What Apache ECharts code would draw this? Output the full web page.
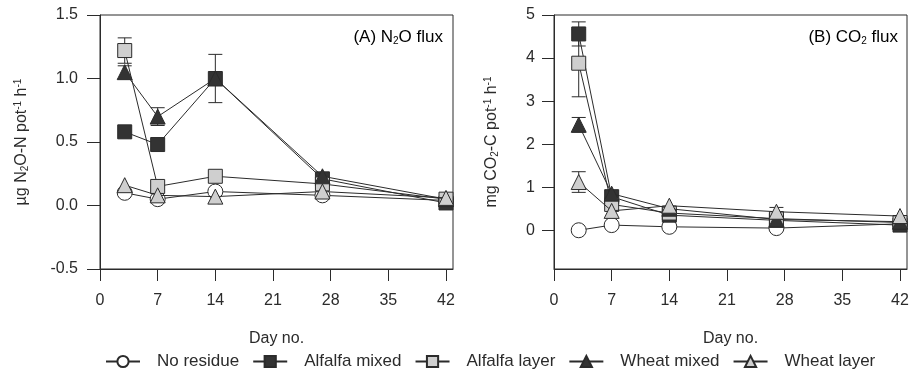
<!DOCTYPE html>
<html><head><meta charset="utf-8">
<script src="https://cdn.jsdelivr.net/npm/echarts@6/dist/echarts.min.js"></script>
<style>html,body{margin:0;padding:0;background:#fff}#c{width:917px;height:379px}</style>
</head><body><div id="c"></div>
<script>
const days = [3, 7, 14, 27, 42];
const seriesNames = ['No residue', 'Alfalfa mixed', 'Alfalfa layer', 'Wheat mixed', 'Wheat layer'];
const xTicks = [0, 7, 14, 21, 28, 35, 42];
const yTicksA = [-0.5, 0, 0.5, 1.0, 1.5];
const yTicksB = [0, 1, 2, 3, 4, 5];

// Panel A: N2O flux
const noResA  = [0.10, 0.05, 0.11, 0.08, 0.04];
const alfMixA = [0.58, 0.48, 1.00, 0.21, 0.02];
const alfLayA = [1.22, 0.15, 0.23, 0.17, 0.05];
const wheMixA = [1.05, 0.70, 1.00, 0.23, 0.05];
const wheLayA = [0.16, 0.08, 0.07, 0.11, 0.06];
const errAlfMixA = [0, 0, 0.19, 0, 0];
const errAlfLayA = [0.10, 0, 0, 0, 0];
const errWheMixA = [0.05, 0.07, 0, 0, 0];

// Panel B: CO2 flux
const noResB  = [0.00, 0.12, 0.08, 0.05, 0.15];
const alfMixB = [4.56, 0.78, 0.35, 0.23, 0.12];
const alfLayB = [3.88, 0.60, 0.40, 0.27, 0.18];
const wheMixB = [2.45, 0.85, 0.50, 0.25, 0.20];
const wheLayB = [1.12, 0.45, 0.57, 0.43, 0.33];
const errAlfMixB = [0.28, 0, 0, 0, 0];
const errAlfLayB = [0.78, 0, 0, 0, 0];
const errWheMixB = [0.17, 0, 0, 0, 0];
const errWheLayB = [0.24, 0, 0, 0.10, 0];

const FONT = 'Liberation Sans';
const FS = 16;
const INK = '#2b2b2b';
const styles = [
  {symbol: 'circle', color: '#ffffff', size: 15},
  {symbol: 'rect', color: '#333333', size: 14},
  {symbol: 'rect', color: '#cfcfcf', size: 14},
  {symbol: 'triangle', color: '#333333', size: 15},
  {symbol: 'triangle', color: '#cfcfcf', size: 15}
];

function lineSeries(i, vals, gi) {
  const s = styles[i];
  return {
    type: 'line', name: seriesNames[i], xAxisIndex: gi, yAxisIndex: gi,
    data: days.map((d, k) => [d, vals[k]]),
    symbol: s.symbol, symbolSize: s.size,
    lineStyle: {color: INK, width: 1},
    itemStyle: {color: s.color, borderColor: INK, borderWidth: 1},
    z: 3 + i, animation: false
  };
}
function errSeries(vals, errs, gi) {
  const data = [];
  days.forEach((d, k) => { if (errs[k] > 0) data.push([d, vals[k] - errs[k], vals[k] + errs[k]]); });
  return {
    type: 'custom', xAxisIndex: gi, yAxisIndex: gi, z: 2, silent: true, animation: false,
    data: data,
    renderItem: function (params, api) {
      const lo = api.coord([api.value(0), api.value(1)]);
      const hi = api.coord([api.value(0), api.value(2)]);
      const w = 7;
      const st = {stroke: INK, lineWidth: 1};
      return {type: 'group', children: [
        {type: 'line', shape: {x1: lo[0], y1: lo[1], x2: hi[0], y2: hi[1]}, style: st},
        {type: 'line', shape: {x1: lo[0] - w, y1: lo[1], x2: lo[0] + w, y2: lo[1]}, style: st},
        {type: 'line', shape: {x1: hi[0] - w, y1: hi[1], x2: hi[0] + w, y2: hi[1]}, style: st}
      ]};
    }
  };
}

function richFor(fs) {
  return {
    t: {fontFamily: FONT, fontSize: fs, color: INK},
    sub: {fontFamily: FONT, fontSize: 10, color: INK, verticalAlign: 'bottom', padding: [7, 0, 0, 0]},
    sup: {fontFamily: FONT, fontSize: 10, color: INK, verticalAlign: 'top', padding: [0, 0, 7, 0]}
  };
}

function xAxis(gi) {
  return {
    type: 'value', gridIndex: gi, min: 0, max: 42.85,
    name: 'Day no.', nameLocation: 'middle', nameGap: 62,
    nameTextStyle: {fontFamily: FONT, fontSize: FS, color: INK},
    axisLine: {show: true, onZero: false, lineStyle: {color: INK, width: 1}},
    axisTick: {show: true, length: 12, lineStyle: {color: INK}, customValues: xTicks},
    axisLabel: {fontFamily: FONT, fontSize: FS, color: INK, margin: 24, customValues: xTicks},
    splitLine: {show: false}
  };
}

const option = {
  backgroundColor: '#ffffff',
  animation: false,
  grid: [
    {left: 100, right: 464, top: 15, bottom: 110, show: true, borderColor: INK, borderWidth: 1, containLabel: false},
    {left: 554, right: 10, top: 15, bottom: 110, show: true, borderColor: INK, borderWidth: 1, containLabel: false}
  ],
  xAxis: [xAxis(0), xAxis(1)],
  yAxis: [
    {type: 'value', gridIndex: 0, min: -0.5, max: 1.5,
     name: '{t|µg N}{sub|2}{t|O-N pot}{sup|-1}{t| h}{sup|-1}', nameLocation: 'middle', nameGap: 70,
     nameTextStyle: {rich: richFor(16)},
     axisLine: {show: true, onZero: false, lineStyle: {color: INK}},
     axisTick: {show: true, length: 13, lineStyle: {color: INK}, customValues: yTicksA},
     axisLabel: {fontFamily: FONT, fontSize: FS, color: INK, margin: 22, customValues: yTicksA,
       formatter: v => v.toFixed(1)},
     splitLine: {show: false}},
    {type: 'value', gridIndex: 1, min: -0.9, max: 5,
     name: '{t|mg CO}{sub|2}{t|-C pot}{sup|-1}{t| h}{sup|-1}', nameLocation: 'middle', nameGap: 54,
     nameTextStyle: {rich: richFor(16)},
     axisLine: {show: true, onZero: false, lineStyle: {color: INK}},
     axisTick: {show: true, length: 12, lineStyle: {color: INK}, customValues: yTicksB},
     axisLabel: {fontFamily: FONT, fontSize: FS, color: INK, margin: 19, customValues: yTicksB,
       formatter: v => String(Math.round(v))},
     splitLine: {show: false}}
  ],
  legend: {
    bottom: 4, left: 100, itemWidth: 34, itemHeight: 14, itemGap: 13,
    textStyle: {fontFamily: FONT, fontSize: 17, color: INK, padding: [0, 0, 0, 12]},
    data: seriesNames
  },
  graphic: [
    {type: 'text', right: 474, top: 29, style: {rich: richFor(17), text: '{t|(A) N}{sub|2}{t|O flux}'}},
    {type: 'text', right: 19, top: 29, style: {rich: richFor(17), text: '{t|(B) CO}{sub|2}{t| flux}'}}
  ],
  series: [
    errSeries(alfMixA, errAlfMixA, 0), errSeries(alfLayA, errAlfLayA, 0), errSeries(wheMixA, errWheMixA, 0),
    lineSeries(0, noResA, 0), lineSeries(3, wheMixA, 0), lineSeries(4, wheLayA, 0),
    lineSeries(1, alfMixA, 0), lineSeries(2, alfLayA, 0),
    errSeries(alfMixB, errAlfMixB, 1), errSeries(alfLayB, errAlfLayB, 1), errSeries(wheMixB, errWheMixB, 1), errSeries(wheLayB, errWheLayB, 1),
    lineSeries(0, noResB, 1), lineSeries(3, wheMixB, 1), lineSeries(4, wheLayB, 1),
    lineSeries(1, alfMixB, 1), lineSeries(2, alfLayB, 1)
  ]
};
const chart = echarts.init(document.getElementById('c'), null, {renderer: 'canvas'});
chart.setOption(option);
</script></body></html>
